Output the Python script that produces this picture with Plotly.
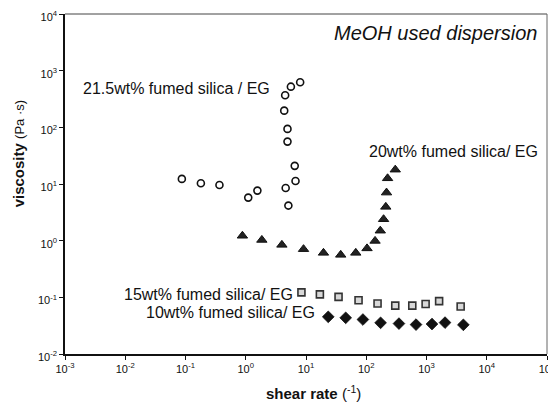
import plotly.graph_objects as go

# 21.5 wt% fumed silica / EG (open circles)
x_215 = [0.087, 0.18, 0.366, 1.10, 1.56, 4.6, 6.7, 6.5, 5.1, 4.93, 4.93, 4.35, 4.51, 5.61, 8.0]
y_215 = [12.3, 10.3, 9.6, 5.75, 7.65, 8.5, 11.3, 20.9, 4.16, 56, 93.8, 197, 368, 522, 624]

# 20 wt% fumed silica / EG (filled triangles)
x_20 = [0.88, 1.85, 3.98, 9.1, 19.5, 37.7, 67, 103, 140, 171, 194, 211, 217, 226, 303]
y_20 = [1.22, 1.03, 0.843, 0.708, 0.609, 0.562, 0.609, 0.731, 0.99, 1.50, 2.39, 3.95, 7.05, 12.6, 17.9]

# 15 wt% fumed silica / EG (squares)
x_15 = [8.4, 17.0, 34.7, 74.5, 154, 303, 581, 967, 1620, 3690]
y_15 = [0.1225, 0.113, 0.102, 0.0886, 0.0778, 0.0714, 0.0714, 0.0762, 0.0857, 0.0689]

# 10 wt% fumed silica / EG (diamonds)
x_10 = [23.4, 45.6, 88, 173, 349, 670, 1233, 2030, 4090]
y_10 = [0.0453, 0.0435, 0.0406, 0.0355, 0.0344, 0.033, 0.0338, 0.0358, 0.0327]

x_exp = [-3, -2, -1, 0, 1, 2, 3, 4, 5]
y_exp = [-2, -1, 0, 1, 2, 3, 4]

FONT = "Liberation Sans, Arial, sans-serif"

fig = go.Figure()
fig.add_trace(go.Scatter(x=x_215, y=y_215, mode="markers",
                         marker=dict(symbol="circle-open", size=7, color="#111",
                                     line=dict(width=1.6, color="#111"))))
fig.add_trace(go.Scatter(x=x_20, y=y_20, mode="markers",
                         marker=dict(symbol="triangle-up", size=9, color="#222",
                                     line=dict(width=1, color="#111"))))
fig.add_trace(go.Scatter(x=x_15, y=y_15, mode="markers",
                         marker=dict(symbol="square", size=7, color="#d8d8d8",
                                     line=dict(width=1.6, color="#333"))))
fig.add_trace(go.Scatter(x=x_10, y=y_10, mode="markers",
                         marker=dict(symbol="diamond", size=9, color="#111",
                                     line=dict(width=0.8, color="#111"))))

# the page body adds an 8px offset, so the figure is sized to fit the window
fig.update_layout(
    width=548, height=403,
    margin=dict(l=57, r=9, t=6, b=57, autoexpand=False),
    paper_bgcolor="white", plot_bgcolor="white",
    showlegend=False,
    font=dict(family=FONT, color="#111", size=11),
)
fig.update_xaxes(type="log", range=[-3, 5], showgrid=False, zeroline=False,
                 automargin=False, ticklabeloverflow="allow",
                 showline=True, linecolor="#111", linewidth=1.5,
                 ticks="outside", ticklen=4, tickcolor="#111",
                 tickvals=[10 ** e for e in x_exp],
                 ticktext=[f"10<sup>{e}</sup>" for e in x_exp],
                 tickfont=dict(size=11, family=FONT))
fig.update_yaxes(type="log", range=[-2, 4], showgrid=False, zeroline=False,
                 automargin=False, ticklabeloverflow="allow", ticklabelshift=3,
                 showline=True, linecolor="#111", linewidth=1.5,
                 ticks="outside", ticklen=4, tickcolor="#111",
                 tickvals=[10 ** e for e in y_exp],
                 ticktext=[f"10<sup>{e}</sup>" for e in y_exp],
                 tickfont=dict(size=11, family=FONT))

# top and right frame lines (lighter)
fig.add_shape(type="line", xref="paper", yref="paper", x0=0, x1=1, y0=1, y1=1,
              line=dict(color="#444", width=1))
fig.add_shape(type="line", xref="paper", yref="paper", x0=1, x1=1, y0=0, y1=1,
              line=dict(color="#666", width=1))

ann = [
    dict(text="<i>MeOH used dispersion</i>", x=4.857, y=3.665, xanchor="right", size=20),
    dict(text="21.5wt% fumed silica / EG", x=-2.718, y=2.677, xanchor="left", size=16),
    dict(text="20wt% fumed silica/ EG", x=2.033, y=1.566, xanchor="left", size=16),
    dict(text="15wt% fumed silica/ EG", x=-2.037, y=-0.956, xanchor="left", size=16),
    dict(text="10wt% fumed silica/ EG", x=-1.671, y=-1.273, xanchor="left", size=16),
]
for a in ann:
    fig.add_annotation(text=a["text"], x=a["x"], y=a["y"], xref="x", yref="y",
                       xanchor=a["xanchor"], yanchor="middle", showarrow=False,
                       borderpad=0,
                       font=dict(size=a["size"], family=FONT, color="#111"))

fig.add_annotation(text="<b>viscosity</b> <span style='font-size:13px'>(Pa ·s)</span>",
                   xref="paper", yref="paper", x=-0.097, y=0.588,
                   xanchor="center", yanchor="middle", textangle=-90, showarrow=False,
                   font=dict(size=15, family=FONT, color="#111"))
fig.add_annotation(text="<b>shear rate</b> (<sup>-1</sup>)",
                   xref="paper", yref="paper", x=0.516, y=-0.113,
                   xanchor="center", yanchor="middle", showarrow=False,
                   font=dict(size=15, family=FONT, color="#111"))

fig.write_html("out.html")
